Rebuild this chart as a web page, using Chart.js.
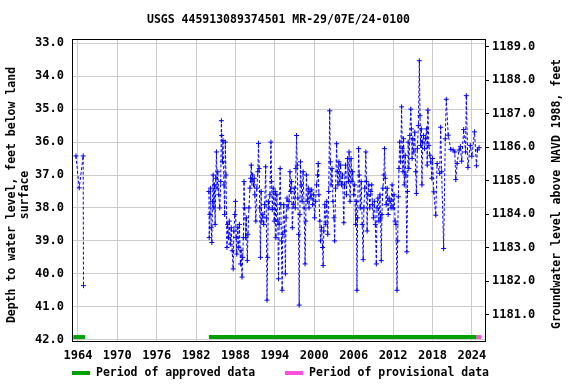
<!DOCTYPE html>
<html><head><meta charset="utf-8">
<script src="https://cdn.jsdelivr.net/npm/chart.js@4/dist/chart.umd.min.js"></script>
<style>html,body{margin:0;padding:0;background:#fff}#wrap{width:576px;height:384px}</style>
</head><body><div id="wrap"><canvas id="c" width="576" height="384"></canvas></div>
<script>
const titleText = 'USGS 445913089374501 MR-29/07E/24-0100';
const leftTitle = ['Depth to water level, feet below land', 'surface'];
const rightTitle = 'Groundwater level above NAVD 1988, feet';
const xTicks = [1964,1970,1976,1982,1988,1994,2000,2006,2012,2018,2024];
const leftTicks = [33,34,35,36,37,38,39,40,41,42];
const rightTicks = [1181,1182,1183,1184,1185,1186,1187,1188,1189];
const legendLabels = ['Period of approved data','Period of provisional data'];

const years = [1963.7,1964.2,1964.8,1964.85,1970,
1983.95,1984.0,1984.1,1984.2,1984.3,1984.4,1984.5,1984.6,1984.7,1984.8,1984.9,1985.0,1985.1,1985.2,1985.3,1985.45,1985.6,1985.75,1985.85,1985.9,
1986.0,1986.1,1986.25,1986.35,1986.45,1986.55,1986.7,1986.8,1986.95,1987.05,1987.2,1987.35,1987.5,1987.65,1987.75,1987.9,
1988.0,1988.1,1988.2,1988.35,1988.5,1988.6,1988.75,1988.85,1989.0,1989.1,1989.2,1989.3,1989.4,1989.55,1989.65,1989.8,1989.9,
1990.05,1990.2,1990.3,1990.4,1990.5,1990.6,1990.75,1990.85,1990.95,1991.1,1991.25,1991.4,1991.5,1991.6,1991.7,1991.8,1991.9,
1992.0,1992.15,1992.3,1992.45,1992.6,1992.7,1992.8,1992.9,1993.0,1993.1,1993.25,1993.4,1993.5,1993.6,1993.75,1993.9,
1994.05,1994.15,1994.3,1994.45,1994.55,1994.65,1994.8,1994.9,1995.0,1995.1,1995.2,1995.35,1995.5,1995.6,1995.7,1995.85,
1996.0,1996.15,1996.3,1996.4,1996.55,1996.65,1996.8,1996.95,1997.1,1997.2,1997.3,1997.4,1997.5,1997.6,1997.7,1997.8,1997.9,
1998.0,1998.15,1998.3,1998.45,1998.6,1998.7,1998.8,1998.95,1999.1,1999.2,1999.35,1999.5,1999.6,1999.75,1999.9,
2000.05,2000.2,2000.35,2000.5,2000.6,2000.7,2000.85,2000.95,2001.1,2001.25,2001.35,2001.45,2001.6,2001.75,2001.9,
2002.05,2002.2,2002.35,2002.45,2002.55,2002.7,2002.85,2003.0,2003.1,2003.25,2003.4,2003.5,2003.6,2003.75,2003.9,
2004.0,2004.15,2004.3,2004.5,2004.6,2004.75,2004.9,2005.05,2005.2,2005.3,2005.45,2005.6,2005.75,2005.85,
2006.0,2006.15,2006.3,2006.4,2006.5,2006.6,2006.75,2006.85,2007.0,2007.15,2007.3,2007.45,2007.55,2007.7,2007.85,2007.95,
2008.05,2008.15,2008.3,2008.45,2008.6,2008.75,2008.85,2009.0,2009.15,2009.3,2009.45,2009.55,2009.7,2009.85,
2010.0,2010.1,2010.2,2010.3,2010.45,2010.6,2010.7,2010.8,2010.95,2011.1,2011.25,2011.4,2011.55,2011.7,2011.85,
2012.0,2012.15,2012.3,2012.45,2012.6,2012.7,2012.8,2012.9,2013.0,2013.15,2013.3,2013.4,2013.5,2013.6,2013.7,2013.85,2013.95,
2014.1,2014.2,2014.3,2014.4,2014.55,2014.7,2014.8,2014.9,2015.0,2015.15,2015.3,2015.45,2015.55,2015.7,2015.85,
2016.0,2016.1,2016.2,2016.3,2016.4,2016.5,2016.65,2016.8,2016.95,2017.1,2017.2,2017.3,2017.45,2017.6,2017.75,2017.9,
2018.0,2018.2,2018.5,2018.7,2019.1,2019.25,2019.4,2019.7,2019.95,2020.1,2020.4,2020.8,2021.15,2021.4,2021.55,2021.75,
2022.05,2022.25,2022.45,2022.75,2023.05,2023.15,2023.4,2023.75,2024.0,2024.4,2024.7,2024.85,2025.1];

const depths = [36.42,37.39,36.42,40.36,null,
37.5,38.9,38.2,37.4,38.6,39.05,37.8,37.0,38.0,37.3,38.5,37.1,36.3,37.4,36.9,37.6,38.0,37.2,35.35,35.8,
36.6,35.95,37.3,38.2,36.0,37.0,39.2,38.5,38.9,38.4,39.1,38.6,39.3,39.85,38.7,38.2,
37.8,38.9,39.4,38.6,39.2,38.5,39.7,39.3,40.1,39.5,38.9,37.2,38.0,38.9,38.3,39.6,38.8,
38.0,37.4,37.1,36.7,37.2,37.0,37.3,37.1,37.6,38.4,37.4,36.9,36.04,36.8,38.0,39.5,37.5,
38.4,38.2,38.5,37.9,36.75,38.3,40.8,39.5,37.8,38.0,37.6,36.0,37.2,38.05,37.4,38.4,
37.5,38.9,37.6,38.4,40.15,38.5,36.8,37.9,39.0,40.5,38.8,37.9,38.7,40.0,38.3,37.7,
38.0,37.8,36.9,37.5,37.2,38.6,37.9,37.4,38.0,36.8,35.8,36.7,37.7,38.8,40.95,38.2,36.6,
37.3,37.8,36.9,38.0,39.7,38.4,37.0,37.8,37.4,38.0,37.5,37.7,37.45,37.9,37.6,
38.3,37.8,37.3,37.0,36.65,37.6,38.4,39.0,38.6,39.2,39.75,38.7,37.9,38.5,37.8,
38.8,37.5,35.05,36.6,37.3,36.8,37.8,38.3,39.0,37.4,36.05,36.9,37.3,36.6,37.2,
36.7,37.3,37.0,38.45,37.3,36.7,37.6,36.5,37.2,36.3,37.8,36.5,37.2,36.9,
37.6,37.3,38.5,37.8,40.5,38.3,36.2,37.0,38.0,37.2,38.5,39.57,38.0,37.4,36.3,37.2,
38.7,37.6,37.3,38.0,37.5,37.3,37.9,38.3,37.8,38.5,39.7,38.0,37.7,38.4,
37.6,38.3,39.6,38.2,37.4,37.0,36.2,37.1,37.9,37.4,38.2,37.7,37.8,38.0,37.3,
38.0,37.6,38.4,38.5,40.5,39.0,37.66,36.8,36.0,36.6,34.93,36.2,36.9,35.9,37.3,36.4,37.0,
39.33,37.5,36.0,36.8,35.8,35.0,35.6,36.5,35.9,36.3,35.7,36.9,37.56,36.2,35.5,
33.53,35.2,36.1,35.6,37.3,36.0,35.8,36.2,35.9,35.6,36.7,35.03,36.1,36.4,36.6,37.1,
36.5,37.51,38.22,36.65,36.95,35.55,36.9,39.23,35.9,34.7,35.79,36.22,36.24,36.3,37.14,36.65,
36.24,36.14,36.58,35.62,36.3,34.59,36.77,36.1,36.43,35.69,36.72,36.24,36.17];

const approvedPeriods = [[1963.3,1965.1],[1983.95,2024.7]];
const provisionalPeriods = [[2024.7,2025.45]];
const periodDepth = 41.92;

const FONT = 'bold 11.5px "DejaVu Sans Mono", monospace';
const GREEN = '#00a000', PINK = '#ff4fdc', BLUE = '#0000ff';

const series = years.map((x, i) => ({x: x, y: depths[i]}));
const periodSets = [];
approvedPeriods.forEach(p => periodSets.push({data: p.map(x => ({x: x, y: periodDepth})), borderColor: GREEN, borderWidth: 4, pointRadius: 0, borderDash: [], yAxisID: 'y', xAxisID: 'x'}));
provisionalPeriods.forEach(p => periodSets.push({data: p.map(x => ({x: x, y: periodDepth})), borderColor: PINK, borderWidth: 4, pointRadius: 0, borderDash: [], yAxisID: 'y', xAxisID: 'x'}));

const deco = {
  id: 'deco',
  afterDraw(chart) {
    const ctx = chart.ctx, a = chart.chartArea;
    ctx.save();
    ctx.strokeStyle = '#000'; ctx.lineWidth = 1;
    ctx.strokeRect(Math.round(a.left) + 0.5, Math.round(a.top) + 0.5, Math.round(a.right - a.left), Math.round(a.bottom - a.top));
    ctx.fillStyle = '#000'; ctx.font = FONT;
    ctx.textAlign = 'center'; ctx.textBaseline = 'middle';
    ctx.fillText(titleText, (a.left + a.right) / 2, 20);
    const cy = (a.top + a.bottom) / 2;
    ctx.save(); ctx.translate(12, cy + 5); ctx.rotate(-Math.PI / 2);
    ctx.fillText(leftTitle[0], 0, 0); ctx.fillText(leftTitle[1], 0, 13); ctx.restore();
    ctx.save(); ctx.translate(557, cy + 4); ctx.rotate(-Math.PI / 2);
    ctx.fillText(rightTitle, 0, 0); ctx.restore();
    // legend
    ctx.lineWidth = 4;
    ctx.strokeStyle = GREEN; ctx.beginPath(); ctx.moveTo(72, 373); ctx.lineTo(90, 373); ctx.stroke();
    ctx.strokeStyle = PINK; ctx.beginPath(); ctx.moveTo(285, 373); ctx.lineTo(303, 373); ctx.stroke();
    ctx.textAlign = 'left';
    ctx.fillText(legendLabels[0], 96, 373);
    ctx.fillText(legendLabels[1], 309, 373);
    ctx.restore();
  }
};

new Chart(document.getElementById('c'), {
  type: 'line',
  data: {datasets: [
    {data: series, borderColor: BLUE, borderWidth: 1, borderDash: [3, 2], pointStyle: 'cross', pointRadius: 2.5, pointBorderWidth: 1, pointBorderColor: BLUE, spanGaps: false, tension: 0, yAxisID: 'y', xAxisID: 'x'},
    ...periodSets,
    {data: [{x: 2000, y: 1185}], yAxisID: 'y2', xAxisID: 'x', showLine: false, pointRadius: 0}
  ]},
  options: {
    responsive: false, animation: false, parsing: true,
    layout: {padding: {top: 39, left: 0, right: 0, bottom: 0}},
    plugins: {legend: {display: false}, tooltip: {enabled: false}, title: {display: false}},
    scales: {
      x: {type: 'linear', position: 'bottom', min: 1963.1, max: 2026.0,
        afterBuildTicks: s => { s.ticks = xTicks.map(v => ({value: v})); },
        afterFit: s => { s.height = 43; },
        grid: {color: '#cccccc', drawTicks: false}, border: {display: false},
        ticks: {font: {family: 'DejaVu Sans Mono', weight: 'bold', size: 12}, color: '#000', padding: 8, maxRotation: 0, autoSkip: false, callback: v => String(v)}},
      y: {type: 'linear', position: 'left', reverse: true, min: 32.87, max: 42.04,
        afterBuildTicks: s => { s.ticks = leftTicks.map(v => ({value: v})); },
        afterFit: s => { s.width = 72; },
        grid: {color: '#cccccc', drawTicks: false}, border: {display: false},
        ticks: {font: {family: 'DejaVu Sans Mono', weight: 'bold', size: 12}, color: '#000', padding: 8, autoSkip: false, callback: v => v.toFixed(1)}},
      y2: {type: 'linear', position: 'right', min: 1180.22, max: 1189.23,
        afterBuildTicks: s => { s.ticks = rightTicks.map(v => ({value: v})); },
        afterFit: s => { s.width = 91; },
        grid: {drawOnChartArea: false, color: '#000', tickLength: 4, drawTicks: true}, border: {display: false},
        ticks: {font: {family: 'DejaVu Sans Mono', weight: 'bold', size: 12}, color: '#000', padding: 3, autoSkip: false, callback: v => v.toFixed(1)}}
    }
  },
  plugins: [deco]
});
</script></body></html>
